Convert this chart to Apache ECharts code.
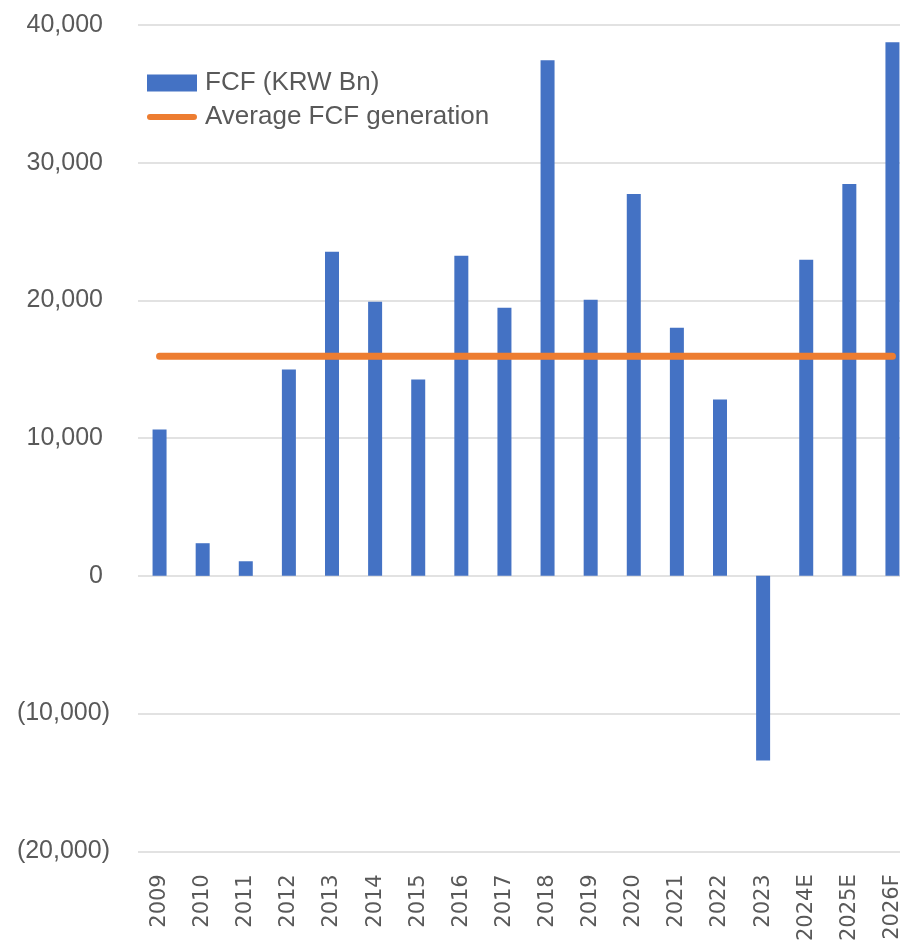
<!DOCTYPE html>
<html>
<head>
<meta charset="utf-8">
<script src="https://cdn.jsdelivr.net/npm/echarts@6/dist/echarts.min.js"></script>
<style>
  html, body { margin: 0; padding: 0; background: #ffffff; overflow: hidden; width: 900px; height: 944px; }
  /* plot runs past the right edge, so the last category is clipped */
  #chart { width: 914px; height: 944px; }
</style>
</head>
<body>
<div id="chart"></div>
<script>
// Free cash flow by year, KRW billions (E/F = estimate / forecast)
const years = ['2009', '2010', '2011', '2012', '2013', '2014', '2015', '2016', '2017',
  '2018', '2019', '2020', '2021', '2022', '2023', '2024E', '2025E', '2026F'];
const fcf = [10630, 2370, 1060, 14980, 23530, 19910, 14250, 23240, 19470,
  37440, 20050, 27730, 18020, 12800, -13410, 22950, 28460, 38750];
const averageFcf = [15950];
const yTicks = [-20000, -10000, 0, 10000, 20000, 30000, 40000];

const avgLine = years.map(() => averageFcf[0]);

function fmtNum(v) {
  const s = Math.abs(v).toLocaleString('en-US');
  return v < 0 ? '(' + s + ')' : s + '{pad|}';
}

// rounded bar used as the legend icon for the average line
const lineIcon = 'path://M3.5,0H53.5A3.5,3.5,0,0,1,53.5,7H3.5A3.5,3.5,0,0,1,3.5,0Z';

const chart = echarts.init(document.getElementById('chart'), null, { renderer: 'canvas' });
chart.setOption({
  animation: false,
  backgroundColor: '#ffffff',
  textStyle: { fontFamily: 'Liberation Sans, Arial, sans-serif' },
  grid: { left: 138, right: 0, top: 25, bottom: 92, containLabel: false },
  legend: {
    orient: 'vertical',
    left: 142,
    top: 65,
    itemWidth: 50,
    itemHeight: 17,
    itemGap: 8,
    textStyle: { fontSize: 26, color: '#595959', fontFamily: 'Liberation Sans, Arial, sans-serif', padding: [0, 0, 0, 3] },
    data: [
      { name: 'FCF (KRW Bn)', icon: 'rect' },
      { name: 'Average FCF generation', icon: lineIcon }
    ]
  },
  xAxis: {
    type: 'category',
    data: years,
    axisLine: { show: false, onZero: false },
    axisTick: { show: false },
    axisLabel: {
      rotate: 90,
      interval: 0,
      margin: 23,
      fontSize: 21,
      color: '#595959',
      fontFamily: 'DejaVu Sans, sans-serif'
    }
  },
  yAxis: {
    type: 'value',
    min: yTicks[0],
    max: yTicks[yTicks.length - 1],
    interval: 10000,
    axisLine: { show: false },
    axisTick: { show: false },
    splitLine: { lineStyle: { color: '#d9d9d9', width: 1.5 } },
    axisLabel: {
      margin: 28,
      fontSize: 25,
      color: '#595959',
      formatter: fmtNum,
      rich: { pad: { width: 7 } }
    }
  },
  series: [
    {
      name: 'FCF (KRW Bn)',
      type: 'bar',
      data: fcf,
      barWidth: 14,
      itemStyle: { color: '#4472c4' }
    },
    {
      name: 'Average FCF generation',
      type: 'line',
      data: avgLine,
      symbol: 'none',
      symbolKeepAspect: true,
      lineStyle: { color: '#ed7d31', width: 7, cap: 'round' },
      itemStyle: { color: '#ed7d31' },
      z: 3
    }
  ]
});
</script>
</body>
</html>
